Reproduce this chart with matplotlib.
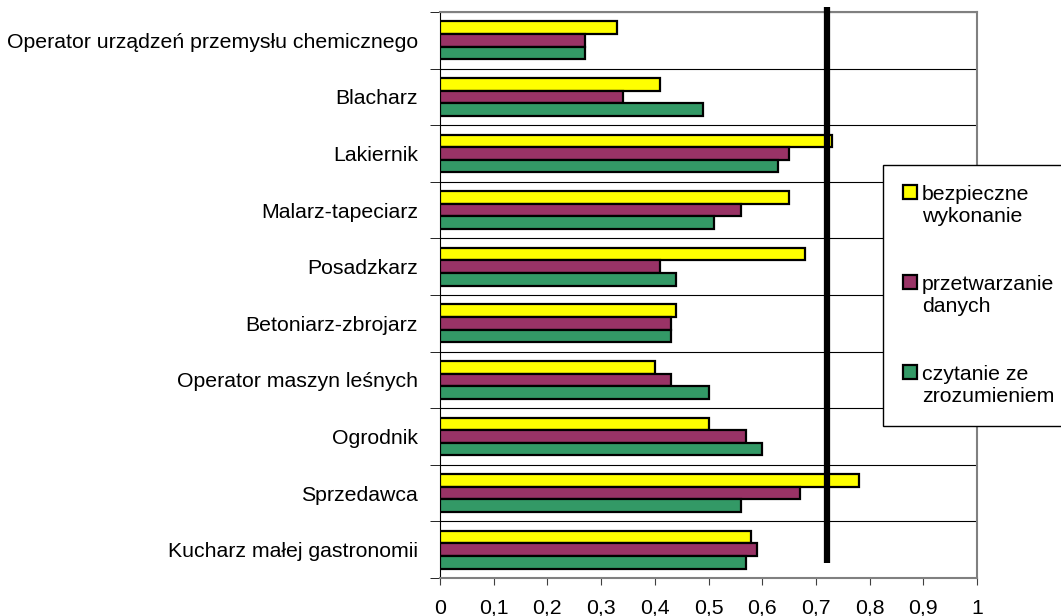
import numpy as np
import matplotlib.pyplot as plt

""" Data read off the chart (top to bottom) """
categories = ["Operator urządzeń przemysłu chemicznego", "Blacharz", "Lakiernik",
              "Malarz-tapeciarz", "Posadzkarz", "Betoniarz-zbrojarz",
              "Operator maszyn leśnych", "Ogrodnik", "Sprzedawca",
              "Kucharz małej gastronomii"]
bezpieczne = [0.33, 0.41, 0.73, 0.65, 0.68, 0.44, 0.40, 0.50, 0.78, 0.58]
przetwarzanie = [0.27, 0.34, 0.65, 0.56, 0.41, 0.43, 0.43, 0.57, 0.67, 0.59]
czytanie = [0.27, 0.49, 0.63, 0.51, 0.44, 0.43, 0.50, 0.60, 0.56, 0.57]
labels = ["bezpieczne\nwykonanie", "przetwarzanie\ndanych", "czytanie ze\nzrozumieniem"]
colors = ["#FFFF00", "#993366", "#339966"]
threshold = 0.72
xticks = np.arange(0, 1.01, 0.1)

plt.rcParams['font.family'] = ['Liberation Sans', 'DejaVu Sans']
FONTSIZE = 15.3

fig = plt.figure(figsize=(10.61, 6.16), dpi=100)
ax = fig.add_axes([440/1061, 1 - 578/616, (977 - 440)/1061, (578 - 12)/616])

y = np.arange(len(categories))
h = 0.222
for k, (vals, lab, col) in enumerate(zip([bezpieczne, przetwarzanie, czytanie], labels, colors)):
    ax.barh(y + (k - 1) * h, vals, height=h, color=col, edgecolor='black',
            linewidth=1.6, label=lab, zorder=3)

# threshold line
ax.axvline(threshold, ymin=0.026, ymax=1.008, color='black', lw=4.5,
           solid_capstyle='butt', clip_on=False, zorder=4)

ax.set_xlim(0, 1)
ax.set_ylim(len(categories) - 0.5, -0.5)
ax.set_xticks(xticks)
ax.set_xticklabels([("%g" % v).replace('.', ',') for v in xticks], fontsize=FONTSIZE)
ax.tick_params(axis='x', length=5, pad=10, color='#404040')
ax.set_yticks(y)
ax.set_yticklabels(categories, fontsize=FONTSIZE)
ax.tick_params(axis='y', which='major', length=0, pad=16)
ax.set_yticks(np.arange(-0.5, len(categories), 1), minor=True)
ax.tick_params(axis='y', which='minor', length=7, color='black')
ax.grid(axis='y', which='minor', color='black', lw=0.8, zorder=1)
ax.grid(axis='y', which='major', visible=False)

for s in ['top', 'right', 'bottom']:
    ax.spines[s].set_color('#808080')
    ax.spines[s].set_linewidth(1.5)
ax.spines['left'].set_color('black')

leg = fig.legend(loc='upper left', bbox_to_anchor=(883/1061, 1 - 165/616),
                 fontsize=FONTSIZE, frameon=True, fancybox=False, edgecolor='black',
                 framealpha=1, borderpad=0.95, labelspacing=2.3, handlelength=0.63,
                 handleheight=0.63, handletextpad=0.25, borderaxespad=0)
leg.get_frame().set_linewidth(1.0)
# put each square next to the first line of its label
for col in leg._legend_handle_box.get_children():
    for item in col.get_children():
        item.align = 'top'

fig.savefig('out.png', dpi=100)
